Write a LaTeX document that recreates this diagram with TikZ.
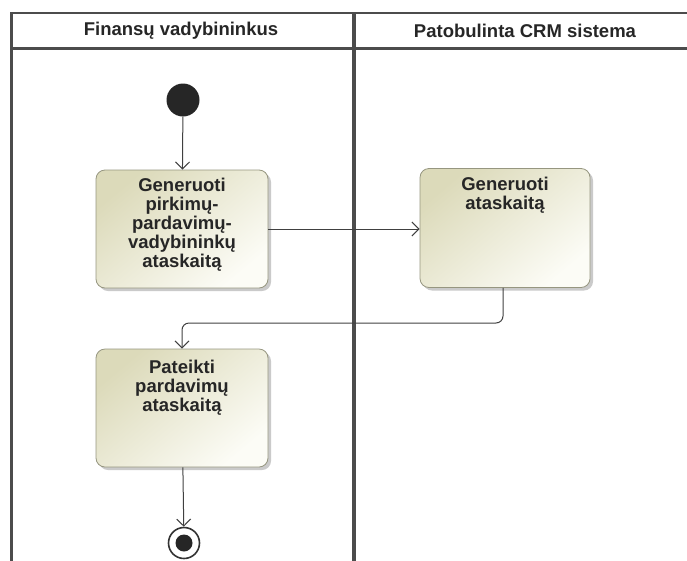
\documentclass[tikz,border=0pt]{standalone}
\usepackage{fontspec}
\setmainfont{Liberation Sans}
\usepackage{tikz}
\usetikzlibrary{arrows.meta}
\usetikzlibrary{positioning}
\usetikzlibrary{shadows}

\definecolor{actiontop}{RGB}{220,218,186}
\definecolor{actionbottom}{RGB}{252,252,246}
\definecolor{actionline}{RGB}{150,150,128}

\begin{document}
\begin{tikzpicture}[x=1pt,y=-1pt,
  lane/.style={draw=black!70,line width=2.4pt},
  lanetitle/.style={font=\fontsize{18.5}{20}\selectfont\bfseries,text=black!85},
  action/.style={draw=actionline,line width=0.8pt,rounded corners=9pt,
    top color=actiontop,bottom color=actionbottom,
    shading angle=40,
    drop shadow={shadow xshift=3pt,shadow yshift=-3pt,fill=black!35,opacity=0.6},
    minimum width=172pt,minimum height=118pt},
  actiontext/.style={align=center,font=\fontsize{18.5}{19}\selectfont\bfseries,
    text=black!85,inner sep=0pt},
  flow/.style={draw=black!75,line width=1pt,rounded corners=7pt,
    -{Straight Barb[length=7pt,width=14pt]}}]
\useasboundingbox (0,0) rectangle (687,560);
% swimlanes
\draw[lane] (11.5,565) -- (11.5,13) -- (700,13);
\draw[lane] (11.5,48.5) -- (700,48.5);
\draw[lane,line width=3.4pt] (354,13) -- (354,565);
\node[lanetitle] (laneA) at (181,30.5) {Finansų vadybininkus};
\node[lanetitle] (laneB) at (525,30.5) {Patobulinta CRM sistema};
% nodes
\node[circle,fill=black!85,minimum size=33pt,inner sep=0pt] (start) at (183,100) {};
\node[action] (gen1) at (182,229) {};
\node[actiontext,below=8pt of gen1.north] (gen1txt) {Generuoti\\pirkimų-\\pardavimų-\\vadybininkų\\ataskaitą};
\node[action,minimum width=170pt,minimum height=119pt] (gen2) at (505,228) {};
\node[actiontext,below=9pt of gen2.north] (gen2txt) {Generuoti\\ataskaitą};
\node[action] (report) at (182,408) {};
\node[actiontext,below=11pt of report.north] (reporttxt) {Pateikti\\pardavimų\\ataskaitą};
\node[circle,draw=black!80,line width=1.6pt,fill=white,minimum size=31pt,inner sep=0pt] (stop) at (184,543) {};
\node[circle,fill=black!85,minimum size=17pt,inner sep=0pt] (stopdot) at (stop) {};
% flows
\draw[flow] (start) -- (gen1);
\draw[flow] (gen1.east) -- (gen2.west |- gen1.east);
\draw[flow] (gen2.south -| 503,0) -- (503,323) -| (report.north);
\draw[flow] (report) -- (stop);
\end{tikzpicture}
\end{document}
